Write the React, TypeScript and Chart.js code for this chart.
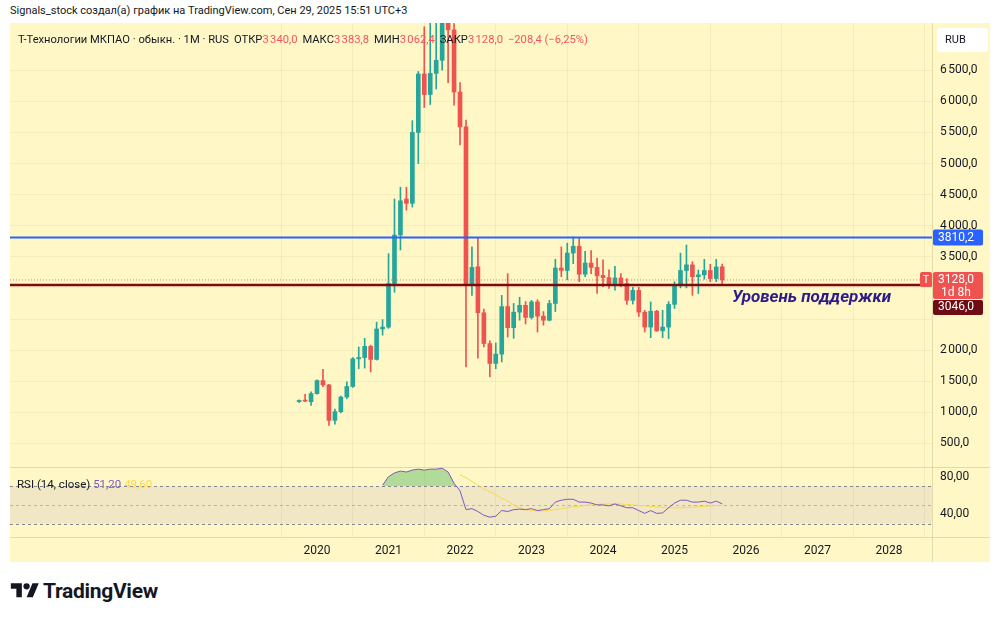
import React, { useEffect, useRef } from 'react';
import { Chart, registerables } from 'chart.js';

Chart.register(...registerables);

// ---------- data ----------
const FIRST_YEAR = 2019;
const FIRST_MONTH = 9; // October (0-based)

const OPEN = [
  1170, 1195, 1170,
  1300, 1510, 1440, 870, 1010, 1245, 1415, 1860, 1880, 2060, 1850, 2340,
  2370, 3070, 3850, 4430, 4360, 5500, 6440, 6110, 6450, 6660, 7600, 7150,
  6150, 5590, 3050, 3340, 2600, 2105, 1785, 1935, 2700, 2360, 2610, 2720,
  2525, 2775, 2545, 2480, 2750, 3320, 3280, 3560, 3670, 3220, 3400, 3330,
  3200, 3165, 3045, 3160, 3070, 2800, 2960, 2610, 2370, 2625, 2310, 2370,
  2735, 3040, 3280, 3370, 3180, 3210, 3280, 3150, 3340,
];
const HIGH = [
  1200, 1290, 1330,
  1520, 1690, 1450, 1050, 1260, 1490, 1880, 2050, 2190, 2080, 2450, 2490,
  3550, 4430, 4620, 4620, 5690, 6480, 7200, 7300, 7350, 8600, 8200, 7250,
  6300, 5700, 3660, 3810, 2660, 2150, 2115, 2880, 3230, 2750, 2850, 2780,
  2800, 2810, 2620, 2800, 3460, 3660, 3720, 3820, 3810, 3590, 3600, 3480,
  3450, 3290, 3345, 3230, 3150, 3010, 3010, 2640, 2775, 2640, 2640, 2780,
  3100, 3560, 3690, 3420, 3290, 3460, 3380, 3460, 3383.8,
];
const LOW = [
  1160, 1170, 1110,
  1290, 1410, 790, 810, 990, 1220, 1400, 1700, 1710, 1650, 1840, 2240,
  2350, 2930, 3610, 4250, 4300, 5000, 5900, 5950, 6200, 6500, 6300, 5940,
  5300, 1730, 2880, 1870, 2050, 1570, 1700, 1810, 2210, 2190, 2480, 2420,
  2500, 2290, 2400, 2470, 2620, 3180, 3130, 3390, 3100, 3180, 3230, 2910,
  3020, 2990, 2965, 3020, 2735, 2740, 2540, 2290, 2200, 2300, 2200, 2185,
  2670, 3000, 3000, 2880, 2910, 3140, 3100, 3100, 3062.4,
];
const CLOSE = [
  1190, 1180, 1300,
  1510, 1440, 870, 1010, 1245, 1415, 1860, 1880, 2060, 1850, 2340, 2370,
  3070, 3850, 4400, 4360, 5500, 6440, 6110, 6450, 6660, 7600, 7150, 6150,
  5590, 3050, 3330, 2600, 2105, 1785, 1935, 2700, 2360, 2610, 2720, 2525,
  2775, 2545, 2480, 2750, 3320, 3280, 3560, 3670, 3220, 3400, 3330, 3195,
  3165, 3045, 3160, 3070, 2800, 2960, 2610, 2370, 2625, 2310, 2370, 2735,
  3040, 3280, 3370, 3180, 3210, 3280, 3150, 3336.4, 3128,
];

// RSI(14) from Dec 2020 (bar index 14), its MA from Jan 2022 (bar index 27)
const RSI_START = 14;
const RSI = [
  71, 80, 84, 86, 85, 87, 88, 87, 88, 88, 89, 85, 73,
  65, 45, 46, 43, 39, 37, 38, 44, 43, 45, 45.5, 45,
  46, 44, 45, 46, 53, 55, 56, 56, 53, 53, 52, 50,
  50, 49, 51, 49, 47, 47, 44, 41, 44, 41, 41.5, 47,
  52, 55, 55, 53, 53, 54, 52, 54, 51.2,
];
const RSI_MA_START = 27;
const RSI_MA = [
  82, 79, 75, 71, 67, 64, 61, 57, 54, 50, 47, 45,
  44, 43.5, 43.5, 44, 45, 46, 47, 48, 48.5, 49.5, 50, 50.5,
  51, 51, 51.3, 51, 50.5, 50, 49.5, 49, 48.5, 48, 47.5, 47,
  46.8, 47, 47.3, 47.6, 48, 48.5, 49, 49.3, 49.6,
];

const LEVEL_RESIST = 3810.2;
const LEVEL_SUPPORT = 3046.0;
const COUNTDOWN = '1d 8h';

const PRICE_TICKS = [500, 1000, 1500, 2000, 2500, 3000, 3500, 4000, 4500, 5000, 5500, 6000, 6500];
const PRICE_TICKS_HIDDEN = [2500, 3000];
const YEAR_TICKS = [2020, 2021, 2022, 2023, 2024, 2025, 2026, 2027, 2028];
const RSI_TICKS = [40, 80];
const RSI_LEVELS = [70, 50, 30];

// ---------- view ranges ----------
const X_MIN = 2015.706;
const X_MAX = 2028.601;
const P_MIN = 120;
const P_MAX = 7260;
const R_MIN = 15.9;
const R_MAX = 90.3;

// ---------- styles ----------
const BG = '#fff8c6';
const GRID = 'rgba(60,50,0,0.06)';
const UP = '#26a69a';
const DOWN = '#ef5350';
const TEXT = '#131722';
const FONT = 'Roboto, "Liberation Sans", sans-serif';

const MONTHS = OPEN.map((_, i) => FIRST_YEAR + (FIRST_MONTH + i) / 12);
const LAST = OPEN.length - 1;

const fmtAxis = (v: number) => {
  const [ip, dp] = v.toFixed(1).split('.');
  return ip.replace(/\B(?=(\d{3})+(?!\d))/g, '\u202f') + ',' + dp;
};
const fmtPlain = (v: number) => v.toFixed(1).replace('.', ',');
const fmtSigned = (v: number) => (v < 0 ? '−' : '+') + Math.abs(v).toFixed(1).replace('.', ',');

const noPad = (s: any) => {
  s.paddingTop = 0;
  s.paddingBottom = 0;
  s.paddingLeft = 0;
  s.paddingRight = 0;
};

const overlayPlugin = {
  id: 'tvOverlay',
  beforeDraw(chart: any) {
    const { ctx, width, height } = chart;
    ctx.save();
    ctx.fillStyle = BG;
    ctx.fillRect(0, 0, width, height);
    ctx.restore();
  },
  beforeDatasetsDraw(chart: any) {
    const { ctx, chartArea } = chart;
    const yr = chart.scales.yr;
    const y70 = yr.getPixelForValue(RSI_LEVELS[0]);
    const y30 = yr.getPixelForValue(RSI_LEVELS[2]);
    ctx.save();
    ctx.fillStyle = 'rgba(126,87,194,0.1)';
    ctx.fillRect(chartArea.left, y70, chartArea.right - chartArea.left, y30 - y70);
    RSI_LEVELS.forEach((lv, i) => {
      const yy = Math.round(yr.getPixelForValue(lv)) + 0.5;
      ctx.strokeStyle = i === 1 ? 'rgba(120,123,134,0.45)' : 'rgba(120,123,134,0.9)';
      ctx.lineWidth = 1;
      ctx.setLineDash([3, 3]);
      ctx.beginPath();
      ctx.moveTo(chartArea.left, yy);
      ctx.lineTo(chartArea.right, yy);
      ctx.stroke();
    });
    ctx.setLineDash([]);
    // pane separators
    ctx.strokeStyle = 'rgba(60,50,0,0.14)';
    ctx.beginPath();
    const ySep = Math.round(yr.top) + 0.5;
    ctx.moveTo(chartArea.left, ySep);
    ctx.lineTo(chart.width, ySep);
    const yBot = Math.round(chartArea.bottom) + 0.5;
    ctx.moveTo(chartArea.left, yBot);
    ctx.lineTo(chart.width, yBot);
    const xR = Math.round(chartArea.right) + 0.5;
    ctx.moveTo(xR, 0);
    ctx.lineTo(xR, chart.height);
    ctx.stroke();
    ctx.restore();
  },
  afterDraw(chart: any) {
    const { ctx, chartArea } = chart;
    const y = chart.scales.y;
    const axL = chartArea.right + 1;
    ctx.save();
    ctx.textBaseline = 'middle';
    ctx.textAlign = 'left';

    // RUB
    ctx.fillStyle = '#ffffff';
    ctx.beginPath();
    ctx.roundRect(axL + 4, 5, 51, 24, 4);
    ctx.fill();
    ctx.fillStyle = TEXT;
    ctx.font = `11px ${FONT}`;
    ctx.fillText('RUB', axL + 12, 17.5);

    ctx.font = `12px ${FONT}`;
    // resistance label
    const pB = y.getPixelForValue(LEVEL_RESIST);
    ctx.fillStyle = '#2962ff';
    ctx.beginPath();
    ctx.roundRect(axL, pB - 8, 50, 16, 2);
    ctx.fill();
    ctx.fillStyle = '#ffffff';
    ctx.fillText(fmtPlain(LEVEL_RESIST), axL + 5, pB + 0.5);

    // last price label
    const pR = y.getPixelForValue(CLOSE[LAST]);
    ctx.fillStyle = DOWN;
    ctx.beginPath();
    ctx.roundRect(axL, pR - 8, 50, 27, 2);
    ctx.fill();
    ctx.beginPath();
    ctx.roundRect(axL - 13, pR - 8, 12, 15, 2);
    ctx.fill();
    ctx.fillStyle = '#ffffff';
    ctx.fillText(fmtPlain(CLOSE[LAST]), axL + 5, pR + 0.5);
    ctx.fillText(COUNTDOWN, axL + 8, pR + 13);
    ctx.font = `11px ${FONT}`;
    ctx.textAlign = 'center';
    ctx.fillText('T', axL - 7, pR);

    // support label (pushed below the last price label)
    ctx.textAlign = 'left';
    ctx.font = `12px ${FONT}`;
    const pS = Math.max(y.getPixelForValue(LEVEL_SUPPORT), pR + 27);
    ctx.fillStyle = '#6d0c12';
    ctx.beginPath();
    ctx.roundRect(axL, pS - 7, 50, 15, 2);
    ctx.fill();
    ctx.fillStyle = '#ffffff';
    ctx.fillText(fmtPlain(LEVEL_SUPPORT), axL + 5, pS + 0.5);
    ctx.restore();
  },
};

export default function App() {
  const ref = useRef<HTMLCanvasElement | null>(null);

  useEffect(() => {
    document.body.style.margin = '0';
    const canvas = ref.current;
    if (!canvas) return;

    const candleColors = MONTHS.map((_, i) => (CLOSE[i] >= OPEN[i] ? UP : DOWN));
    const hline = (v: number) => [
      { x: X_MIN, y: v },
      { x: X_MAX, y: v },
    ];

    const chart = new Chart(canvas, {
      type: 'bar',
      data: {
        datasets: [
          {
            type: 'line',
            label: 'resistance',
            data: hline(LEVEL_RESIST),
            borderColor: '#2962ff',
            borderWidth: 2,
            pointRadius: 0,
            yAxisID: 'y',
            order: 0,
          } as any,
          {
            type: 'line',
            label: 'support',
            data: hline(LEVEL_SUPPORT),
            borderColor: '#7a0b0f',
            borderWidth: 2.5,
            pointRadius: 0,
            yAxisID: 'y',
            order: 0,
          } as any,
          {
            type: 'line',
            label: 'last',
            data: hline(CLOSE[LAST]),
            borderColor: 'rgba(239,83,80,0.8)',
            borderWidth: 1,
            borderDash: [1, 2],
            pointRadius: 0,
            yAxisID: 'y',
            order: 0,
          } as any,
          {
            type: 'bar',
            label: 'wick',
            data: MONTHS.map((x, i) => ({ x, y: [LOW[i], HIGH[i]] })),
            backgroundColor: candleColors,
            barThickness: 1,
            grouped: false,
            yAxisID: 'y',
            order: 2,
          } as any,
          {
            type: 'bar',
            label: 'body',
            data: MONTHS.map((x, i) => ({ x, y: [OPEN[i], CLOSE[i]] })),
            backgroundColor: candleColors,
            barThickness: 4,
            minBarLength: 1,
            grouped: false,
            yAxisID: 'y',
            order: 1,
          } as any,
          {
            type: 'line',
            label: 'RSI',
            data: RSI.map((v, i) => ({ x: MONTHS[RSI_START + i], y: v })),
            borderColor: '#7e57c2',
            borderWidth: 1,
            pointRadius: 0,
            yAxisID: 'yr',
            fill: { target: { value: 70 }, above: 'rgba(102,187,106,0.5)', below: 'rgba(0,0,0,0)' },
            order: 0,
          } as any,
          {
            type: 'line',
            label: 'RSI MA',
            data: RSI_MA.map((v, i) => ({ x: MONTHS[RSI_MA_START + i], y: v })),
            borderColor: '#f9d94a',
            borderWidth: 1,
            pointRadius: 0,
            yAxisID: 'yr',
            order: 0,
          } as any,
        ],
      },
      options: {
        responsive: false,
        animation: false,
        layout: { padding: 0 },
        plugins: { legend: { display: false }, tooltip: { enabled: false } },
        scales: {
          x: {
            type: 'linear',
            min: X_MIN,
            max: X_MAX,
            offset: false,
            afterBuildTicks: (s: any) => {
              s.ticks = YEAR_TICKS.map((v) => ({ value: v }));
            },
            afterFit: (s: any) => {
              s.height = 25;
              noPad(s);
            },
            ticks: {
              callback: (v: any) => String(v),
              color: TEXT,
              font: { size: 12, family: FONT },
              padding: 7,
              maxRotation: 0,
              autoSkip: false,
            },
            grid: { color: GRID, drawTicks: false, tickLength: 0 },
            border: { display: false },
          },
          y: {
            type: 'linear',
            position: 'right',
            stack: 'panes',
            stackWeight: 444,
            min: P_MIN,
            max: P_MAX,
            afterBuildTicks: (s: any) => {
              s.ticks = PRICE_TICKS.map((v) => ({ value: v }));
            },
            afterFit: (s: any) => {
              s.width = 58;
              noPad(s);
            },
            ticks: {
              callback: (v: any) => (PRICE_TICKS_HIDDEN.includes(v) ? '' : fmtAxis(v)),
              color: TEXT,
              font: { size: 12, family: FONT },
              padding: 8,
            },
            grid: { color: GRID, drawTicks: false, tickLength: 0 },
            border: { display: false },
          },
          yr: {
            type: 'linear',
            position: 'right',
            stack: 'panes',
            stackWeight: 70,
            min: R_MIN,
            max: R_MAX,
            afterBuildTicks: (s: any) => {
              s.ticks = RSI_TICKS.map((v) => ({ value: v }));
            },
            afterFit: (s: any) => {
              s.width = 58;
              noPad(s);
            },
            ticks: {
              callback: (v: any) => Number(v).toFixed(2).replace('.', ','),
              color: TEXT,
              font: { size: 12, family: FONT },
              padding: 8,
            },
            grid: { display: false, drawTicks: false, tickLength: 0 },
            border: { display: false },
          },
        },
      } as any,
      plugins: [overlayPlugin],
    });

    return () => chart.destroy();
  }, []);

  const red = { color: '#f7525f' };
  const gap = { display: 'inline-block', width: 5 };
  const chg = CLOSE[LAST] - CLOSE[LAST - 1];
  const pct = (chg / CLOSE[LAST - 1]) * 100;

  return (
    <div
      style={{
        position: 'relative',
        width: 1000,
        height: 619,
        background: '#ffffff',
        fontFamily: FONT,
        color: TEXT,
        overflow: 'hidden',
      }}
    >
      <div style={{ position: 'absolute', left: 10, top: 4, fontSize: 11, whiteSpace: 'nowrap' }}>
        Signals_stock создал(а) график на TradingView.com, Сен 29, 2025 15:51 UTC+3
      </div>
      <canvas
        ref={ref}
        width={980}
        height={539}
        style={{ position: 'absolute', left: 10, top: 23, width: 980, height: 539 }}
      />
      <div style={{ position: 'absolute', left: 18, top: 33, fontSize: 11.2, whiteSpace: 'nowrap' }}>
        Т-Технологии МКПАО · обыкн. · 1М · RUS<span style={{ display: 'inline-block', width: 5 }} />
        ОТКР<span style={red}>{fmtAxis(OPEN[LAST])}</span>
        <span style={gap} />
        МАКС<span style={red}>{fmtAxis(HIGH[LAST])}</span>
        <span style={gap} />
        МИН<span style={red}>{fmtAxis(LOW[LAST])}</span>
        <span style={gap} />
        ЗАКР<span style={red}>{fmtAxis(CLOSE[LAST])}</span>
        <span style={gap} />
        <span style={red}>
          {fmtSigned(chg)} ({pct < 0 ? '−' : '+'}
          {Math.abs(pct).toFixed(2).replace('.', ',')}%)
        </span>
      </div>
      <div style={{ position: 'absolute', left: 17, top: 477, fontSize: 11.5, whiteSpace: 'nowrap' }}>
        RSI (14, close){' '}
        <span style={{ color: '#7e57c2' }}>{RSI[RSI.length - 1].toFixed(2).replace('.', ',')}</span>{' '}
        <span style={{ color: '#f9d94a' }}>{RSI_MA[RSI_MA.length - 1].toFixed(2).replace('.', ',')}</span>
      </div>
      <div
        style={{
          position: 'absolute',
          left: 732,
          top: 286,
          fontSize: 17,
          fontWeight: 700,
          fontStyle: 'italic',
          color: '#2d1b8a',
          whiteSpace: 'nowrap',
        }}
      >
        Уровень поддержки
      </div>
      <div style={{ position: 'absolute', left: 10, top: 579, display: 'flex', alignItems: 'center' }}>
        <svg width="30" height="22" viewBox="0 0 36 28">
          <path d="M14 22H7V11H0V4h14v18zM28 22h-8l7.5-18h8L28 22z" fill="#131722" />
          <circle cx="20" cy="8" r="4" fill="#131722" />
        </svg>
        <span style={{ fontSize: 21, fontWeight: 700, marginLeft: 3, letterSpacing: -0.3 }}>TradingView</span>
      </div>
    </div>
  );
}
